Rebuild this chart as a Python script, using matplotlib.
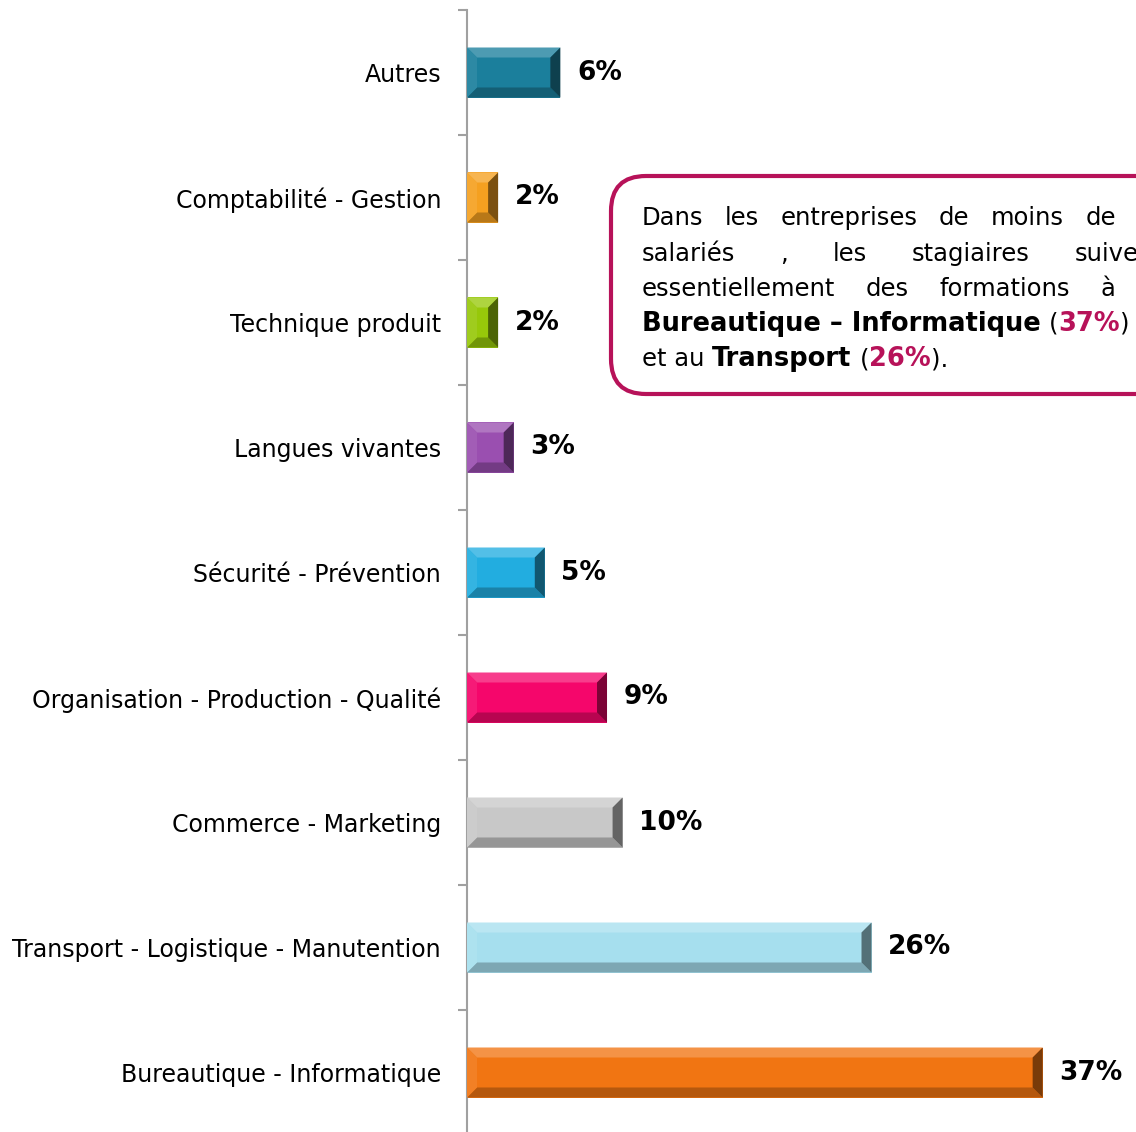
import numpy as np
import matplotlib
matplotlib.use('Agg')
import matplotlib.pyplot as plt
import matplotlib.colors as mcolors
from matplotlib.patches import Polygon, FancyBboxPatch

# ---------------- data (bottom to top) ----------------
categories = ['Bureautique - Informatique', 'Transport - Logistique - Manutention',
              'Commerce - Marketing', 'Organisation - Production - Qualité',
              'Sécurité - Prévention', 'Langues vivantes', 'Technique produit',
              'Comptabilité - Gestion', 'Autres']
values = [37, 26, 10, 9, 5, 3, 2, 2, 6]
bar_colors = ['#f17512', '#a6dfee', '#c8c8c8', '#f5066b', '#22ade0',
              '#9a4fb0', '#97c80a', '#f5a020', '#1b7f9c']

crimson = '#b71259'

W, H = 1136, 1132
fig = plt.figure(figsize=(W / 100, H / 100), dpi=100)
ax = fig.add_axes([467 / W, -3 / H, (W - 467) / W, 1125 / H])
ax.set_xlim(0, 43.0)
ax.set_ylim(-0.5, len(categories) - 0.5)

y = np.arange(len(categories))
bh = 0.4
ax.barh(y, values, height=bh, color=bar_colors, zorder=2)


def mix(c, other, t):
    return tuple(np.array(mcolors.to_rgb(c)) * (1 - t) + np.array(other) * t)


# bevel size, 10 px converted to data units
bx = 10 * 43.0 / (W - 467)
by = 10 * len(categories) / 1125
white = (1, 1, 1)
black = (0, 0, 0)
for yi, v, c in zip(y, values, bar_colors):
    x0, x1 = 0, v
    y0, y1 = yi - bh / 2, yi + bh / 2
    faces = [
        ([(x0, y1), (x1, y1), (x1 - bx, y1 - by), (x0 + bx, y1 - by)], mix(c, white, 0.22)),
        ([(x0, y0), (x1, y0), (x1 - bx, y0 + by), (x0 + bx, y0 + by)], mix(c, black, 0.25)),
        ([(x1, y0), (x1, y1), (x1 - bx, y1 - by), (x1 - bx, y0 + by)], mix(c, black, 0.5)),
        ([(x0, y0), (x0, y1), (x0 + bx, y1 - by), (x0 + bx, y0 + by)], mix(c, white, 0.08)),
    ]
    for pts, fc in faces:
        ax.add_patch(Polygon(pts, closed=True, facecolor=fc, edgecolor='none', zorder=3))
    ax.annotate(f'{v}%', (v, yi), xytext=(12, 0), textcoords='offset points',
                va='center', ha='left', fontsize=19, fontweight='bold', color='black')

for s in ['top', 'right', 'bottom']:
    ax.spines[s].set_visible(False)
ax.spines['left'].set_color('#a0a0a0')
ax.spines['left'].set_linewidth(1.5)
ax.set_xticks([])
ax.set_yticks(y)
ax.set_yticklabels(categories, fontsize=17)
ax.set_yticks(np.arange(-0.5, len(categories), 1), minor=True)
ax.tick_params(axis='y', which='major', length=0, pad=18.7)
ax.tick_params(axis='y', which='minor', length=6.5, width=1.5, color='#a0a0a0')
ax.set_facecolor('none')

# ---------------- comment box (pixel coordinates) ----------------
ov = fig.add_axes([0, 0, 1, 1])
ov.set_xlim(0, W)
ov.set_ylim(H, 0)
ov.axis('off')
ov.patch.set_visible(False)

ov.add_patch(FancyBboxPatch((611, 176), 700, 218, boxstyle='round,pad=0,rounding_size=35',
                            fc='white', ec=crimson, lw=3))

fs = 17.5
fs_bold = 18.5
renderer = fig.canvas.get_renderer()


def width_of(s, weight='normal', size=fs):
    t = ov.text(0, 0, s, fontsize=size, fontweight=weight)
    w = t.get_window_extent(renderer).width
    t.remove()
    return w


space = width_of('x x') - width_of('xx')

# justified lines: words, visible word count, left / right edge of visible part
justified = [
    (225, ['Dans', 'les', 'entreprises', 'de', 'moins', 'de', '10'], 6, 642, 1116),
    (261, ['salariés', ',', 'les', 'stagiaires', 'suivent'], 4, 642, 1030),
    (296, ['essentiellement', 'des', 'formations', 'à', 'la'], 4, 642, 1115),
]
for base, words, nvis, left, right in justified:
    widths = [width_of(w) for w in words]
    gap = (right - left - sum(widths[:nvis])) / (nvis - 1)
    x = left
    for w, wd in zip(words, widths):
        ov.text(x, base, w, fontsize=fs, ha='left', va='baseline')
        x += wd + gap


def draw_runs(x, base, runs):
    for s, weight, color in runs:
        if s == ' ':
            x += space
            continue
        size = fs_bold if weight == 'bold' else fs
        t = ov.text(x, base, s, fontsize=size, fontweight=weight, color=color,
                    ha='left', va='baseline')
        x += t.get_window_extent(renderer).width


draw_runs(642, 331, [('Bureautique – Informatique', 'bold', 'black'), (' ', None, None),
                     ('(', 'normal', 'black'), ('37%', 'bold', crimson), (')', 'normal', 'black')])
draw_runs(642, 366, [('et au', 'normal', 'black'), (' ', None, None),
                     ('Transport', 'bold', 'black'), (' ', None, None),
                     ('(', 'normal', 'black'), ('26%', 'bold', crimson), (').', 'normal', 'black')])

fig.savefig('out.png', dpi=100)
